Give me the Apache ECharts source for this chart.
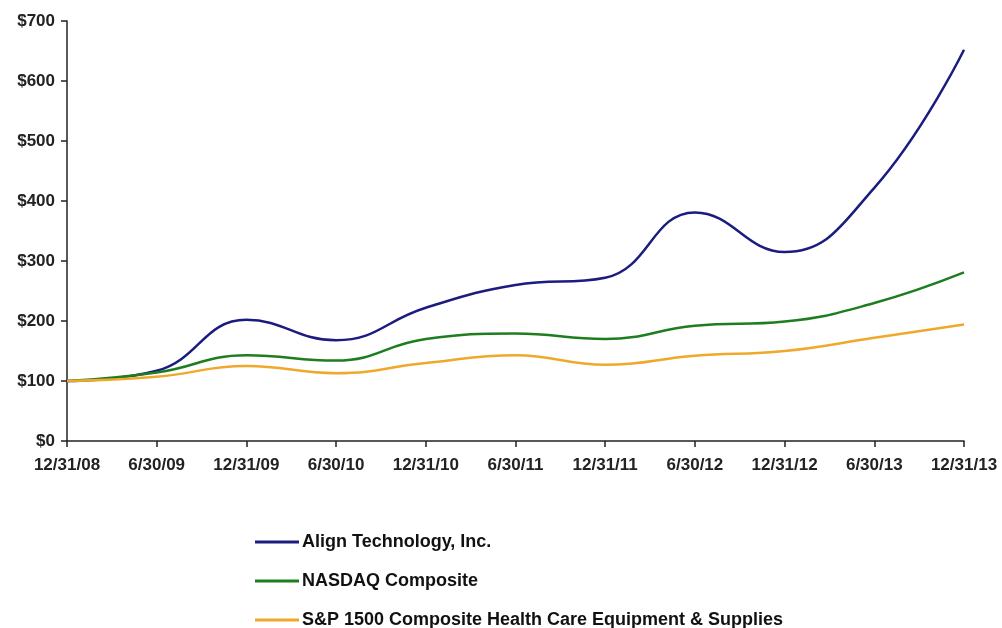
<!DOCTYPE html>
<html><head><meta charset="utf-8">
<script src="https://cdn.jsdelivr.net/npm/echarts@6/dist/echarts.min.js"></script>
<style>html,body{margin:0;padding:0;background:#fff}#c{width:1002px;height:628px}</style>
</head><body><div id="c"></div>
<script>
const categories = ['12/31/08','6/30/09','12/31/09','6/30/10','12/31/10','6/30/11','12/31/11','6/30/12','12/31/12','6/30/13','12/31/13'];
const alignValues = [100, 117, 202, 168, 222, 260, 272, 381, 315, 422, 652];
const nasdaqValues = [100, 114, 143, 134, 170, 179, 170, 192, 199, 230, 281];
const spValues = [100, 107, 125, 113, 130, 143, 127, 142, 150, 172, 194];
const seriesNames = ['Align Technology, Inc.', 'NASDAQ Composite', 'S&P 1500 Composite Health Care Equipment & Supplies'];
const colors = ['#1c1c80', '#1e7d1e', '#f0a82c'];

const chart = echarts.init(document.getElementById('c'), null, {renderer: 'canvas'});
const font = 'Arial, "Liberation Sans", sans-serif';
function mk(name, data, color) {
  return {name, type: 'line', data, smooth: 0.45, symbol: 'none',
    lineStyle: {color, width: 2.5}, itemStyle: {color}};
}
function lg(name, top) {
  return {
    orient: 'vertical', left: 250, top, itemWidth: 44, itemHeight: 3, icon: 'rect',
    textStyle: {color: '#111', fontFamily: font, fontWeight: 'bold', fontSize: 18, padding: [0,0,0,-2]},
    data: [name]
  };
}
chart.setOption({
  animation: false,
  grid: {left: 67, right: 38, top: 21, bottom: 187},
  xAxis: {
    type: 'category', data: categories, boundaryGap: false,
    axisLine: {lineStyle: {color: '#222', width: 1.5}},
    axisTick: {show: true, length: 6, lineStyle: {color: '#222', width: 1.5}},
    axisLabel: {color: '#222', fontFamily: font, fontWeight: 'bold', fontSize: 17, margin: 16}
  },
  yAxis: {
    type: 'value', min: 0, max: 700, interval: 100,
    splitLine: {show: false},
    axisLine: {show: true, lineStyle: {color: '#222', width: 1.5}},
    axisTick: {show: true, length: 6, lineStyle: {color: '#222', width: 1.5}},
    axisLabel: {color: '#222', fontFamily: font, fontWeight: 'bold', fontSize: 17, margin: 12,
      formatter: v => '$' + v}
  },
  legend: [lg(seriesNames[0], 528), lg(seriesNames[1], 567), lg(seriesNames[2], 606)],
  series: [
    mk(seriesNames[0], alignValues, colors[0]),
    mk(seriesNames[1], nasdaqValues, colors[1]),
    mk(seriesNames[2], spValues, colors[2])
  ]
});
</script></body></html>
